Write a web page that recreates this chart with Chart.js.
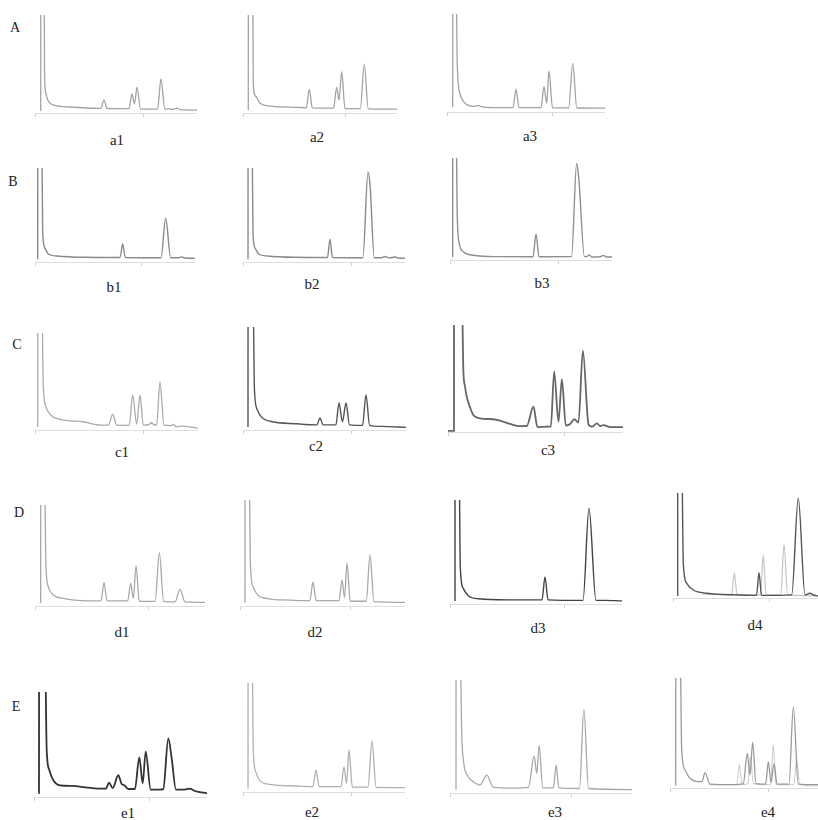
<!DOCTYPE html>
<html><head><meta charset="utf-8">
<script src="https://cdn.jsdelivr.net/npm/chart.js@4"></script>
<style>
html,body{margin:0;padding:0;background:#fff;width:818px;height:820px;overflow:hidden;position:relative;}
canvas{position:absolute;}
.lbl{position:absolute;transform:translate(-50%,-50%);font-family:"Liberation Serif","DejaVu Serif",serif;font-size:15px;color:#222;white-space:nowrap;}
.row{font-size:14px;}
</style></head><body>
<script>
// Retention time (0-30 min) vs. detector response (0-100 % of full scale, solvent peak off-scale)
const a1 = [[1.06,2],[1.07,140],[1.70,140],[1.76,45],[1.95,22],[2.3,14],[2.8,10],[3.7,7.7],[6.5,6.1],[12.2,4.8],[12.78,13.3],[13.35,4.6],[17.4,4.4],[17.96,19.4],[18.43,9.2],[18.89,26.5],[19.54,4],[22.7,4],[23.33,34.7],[24.05,3.8],[25.0,4.5],[25.37,3.5],[26.3,5.0],[26.85,3.5],[30,3]];
const a2 = [[1.03,3],[1.04,140],[1.89,140],[2.0,30],[2.53,16.7],[3.31,9.9],[5.26,7.1],[10.46,5.8],[12.33,5.3],[12.92,24.2],[13.5,5.2],[16.3,5],[17.63,5],[18.25,26.2],[18.70,13.3],[19.23,42.2],[19.87,4.5],[22.85,4.4],[23.63,49.7],[24.4,4.3],[30,4]];
const a3 = [[1.08,5],[1.09,140],[1.71,140],[1.96,46.2],[2.47,19.1],[3.42,8.9],[4.69,6.1],[5.3,5.8],[5.94,6.8],[6.5,5.5],[7.54,4.8],[12.53,4.5],[13.1,23.2],[13.67,4.5],[17.85,4.5],[18.42,25.8],[18.93,8.9],[19.37,41.8],[20.03,4.3],[23.1,4.2],[23.87,49.7],[24.65,4.1],[30,4]];
const b1 = [[0.51,3],[0.52,140],[1.26,140],[1.44,30.5],[1.88,14.6],[2.5,8.5],[4.06,6.4],[9.06,5],[15.94,4.8],[16.44,19.1],[16.93,4.8],[23.63,4.6],[24.5,46.5],[25.44,4.6],[26.8,4.5],[27.5,5.5],[28.1,4.2],[30,3.9]];
const b2 = [[0.93,3],[0.94,140],[1.67,140],[1.85,30],[2.3,14],[2.9,8.5],[4.5,6.4],[9.5,5],[15.65,4.8],[16.1,24],[16.57,4.8],[22.2,4.6],[23.15,95.7],[23.55,80],[24.3,4.6],[25.6,4.5],[26.3,5.8],[27.0,4.4],[28.15,5.3],[28.8,4.2],[30,4]];
const b3 = [[0.5,3],[0.51,140],[1.11,140],[1.35,42.4],[1.72,16.3],[2.46,8.2],[4.31,4.6],[8.65,3.3],[15.37,3.2],[15.93,25.5],[16.48,3.2],[22.5,3.3],[23.46,94.8],[23.85,80],[24.9,3.3],[25.3,3.3],[25.8,5],[26.24,3],[27.8,3.2],[28.4,4.5],[29,3],[30,3]];
const c1 = [[0.5,3],[0.51,140],[1.23,140],[1.53,44.5],[2.02,24],[2.76,16.1],[4.6,11],[8.89,8.5],[11.96,5.1],[13.5,5],[14.3,16.1],[15.03,5],[17.35,4.8],[17.98,36],[18.71,6.2],[19.32,36],[19.93,5],[21.0,5.5],[21.34,7.5],[21.9,5.5],[22.39,5],[23.0,49.7],[23.74,5],[25.0,4.5],[25.45,5.8],[26.0,3.5],[27.0,4],[30,2]];
const c2 = [[0.92,3],[0.93,140],[1.84,140],[2.1,40],[2.6,20],[3.5,12],[5,8.5],[10,6],[13.6,5],[14.17,11.7],[14.74,5],[17.1,5],[17.67,26.2],[18.3,8],[18.96,26.2],[19.6,5],[22.0,4.5],[22.64,34],[23.3,4.5],[25.5,3.5],[30,2.5]];
const c3 = [[0,1],[1.02,1],[1.03,140],[2.35,140],[2.63,58],[2.92,42.3],[3.21,33],[3.78,23],[4.34,15.9],[5.49,12.8],[7.78,11.9],[8.93,10.6],[10.65,7.5],[12.36,5.5],[13.5,5.6],[14.65,23.7],[15.33,4.5],[16.95,5],[17.63,5],[18.2,56.4],[18.94,9.6],[19.52,49.3],[20.2,6],[20.95,7.5],[21.63,11.9],[22.37,9],[23.12,76],[24.09,7],[24.67,5],[25.53,8],[26.1,5.6],[26.67,6.5],[27.81,4.5],[30,4.6]];
const d1 = [[1.0,3],[1.01,140],[1.64,140],[1.94,38.9],[2.35,19.1],[3.23,10.9],[5.0,7.6],[8.53,5.3],[11.65,5],[12.18,23.1],[12.71,5],[16.36,5],[16.89,22.5],[17.35,7.6],[17.83,39.6],[18.41,4.6],[21.2,4.5],[21.94,52.8],[22.7,4.5],[24.71,4],[25.59,16.5],[26.47,4],[30,3.5]];
const d2 = [[0.91,3],[0.92,140],[1.64,140],[1.9,38],[2.4,18],[3.3,10],[5,7],[9,5.5],[12.7,5],[13.27,22.6],[13.84,5],[18.0,5],[18.55,24.5],[19.0,8],[19.45,40.5],[20.05,4.5],[22.95,4.5],[23.64,48],[24.35,4.2],[30,3.5]];
const d3 = [[0.87,3],[0.88,140],[1.57,140],[1.8,35],[2.3,15],[3.2,8],[5,5],[10,4],[16.05,4],[16.57,26],[17.1,4],[23.2,3.5],[24.24,92],[25.46,3.5],[27,3.5],[30,3]];
const d4 = [[0.97,2],[0.98,140],[1.8,140],[2.13,33],[2.83,14],[4.2,7.6],[6.97,4.5],[13.86,2.9],[17.28,2.5],[17.79,24.1],[18.31,2.5],[24.56,3],[25.92,95],[27.31,3],[28.35,4.5],[29.03,3],[30,2]];
const d4b = [[6,4],[12.1,3],[12.68,23.6],[13.26,3],[18.1,3],[18.68,41],[19.26,3],[22.3,3],[22.97,50.5],[23.7,3],[30,2]];
const e1 = [[0.87,3],[0.88,140],[1.91,140],[2.2,44.8],[2.65,25.7],[3.35,15.9],[4.51,11.1],[6.81,10.5],[8.5,9.5],[11.44,8],[12.48,8],[13.0,13.6],[13.64,8.5],[14.62,20.7],[15.2,12.4],[15.6,11.4],[16.35,7.6],[17.5,7.6],[18.26,37.8],[18.85,13],[19.37,43.1],[20.23,7],[21.85,7],[22.42,7.5],[23.29,55.7],[23.88,36.6],[24.62,7],[25.89,7],[27.05,8],[27.92,5.7],[30,3.5]];
const e2 = [[0.93,3],[0.94,140],[1.67,140],[1.9,40],[2.4,18],[3.2,10],[5,7],[10,5.5],[12.95,5],[13.52,20.2],[14.1,5],[18.15,5],[18.7,23],[19.17,8],[19.63,38.5],[20.25,4.5],[23.15,4.5],[23.89,46.8],[24.65,4.2],[30,4]];
const e3 = [[0.99,3],[1.0,140],[1.65,140],[1.93,52.8],[2.2,29.2],[3.02,14.4],[3.85,10],[4.95,7.1],[6.06,15.9],[7.15,5],[10.45,4.4],[12.93,5],[13.87,32.7],[14.31,17.4],[14.69,41.9],[15.3,4.5],[17.05,4.5],[17.5,24.8],[17.94,4.5],[21.34,4],[22.07,74],[22.83,4],[30,3]];
const e4 = [[1.16,2],[1.17,140],[2.03,140],[2.37,34.5],[3.04,16.4],[4.05,8.8],[5.74,5.8],[6.5,6],[7.09,13.9],[8.1,3.5],[12.83,3],[14.86,4],[15.67,31.5],[16.2,12],[16.76,41.2],[17.43,4],[19.39,3.5],[19.93,24],[20.47,5],[21.08,22],[21.7,3.5],[24.12,3.5],[25.0,73.4],[26.0,3.5],[30,3]];
const e4b = [[8,3],[13.5,3],[14.05,21],[14.6,3],[15.8,4],[16.3,28],[16.9,4],[20.4,3],[20.94,39],[21.5,3],[25.1,3],[25.68,26],[26.3,3],[30,2]];

const rowLetters = ['A','B','C','D','E'];
const rowPos = [[15,28],[13,182],[17,345],[19,513],[16,707]];

const panels = [
 {id:'a1',sets:[a1],x:35,top:15,w:162,h:98,col:['#a3a3a3'],lw:[1.3],lx:117,ly:140},
 {id:'a2',sets:[a2],x:243,top:15,w:154,h:98,col:['#a3a3a3'],lw:[1.3],lx:317,ly:137},
 {id:'a3',sets:[a3],x:447,top:14,w:158,h:98,col:['#a3a3a3'],lw:[1.3],lx:530,ly:136},
 {id:'b1',sets:[b1],x:35,top:168,w:160,h:94,col:['#8a8a8a'],lw:[1.4],lx:114,ly:287},
 {id:'b2',sets:[b2],x:243,top:168,w:162,h:94,col:['#8a8a8a'],lw:[1.4],lx:312,ly:284},
 {id:'b3',sets:[b3],x:450,top:158,w:162,h:102,col:['#909090'],lw:[1.4],lx:542,ly:283},
 {id:'c1',sets:[c1],x:35,top:333,w:163,h:97,col:['#aaaaaa'],lw:[1.3],lx:122,ly:452},
 {id:'c2',sets:[c2],x:243,top:327,w:163,h:103,col:['#555555'],lw:[1.4],lx:316,ly:446},
 {id:'c3',sets:[c3],x:448,top:325,w:175,h:107,col:['#666666'],lw:[1.8],lx:548,ly:450},
 {id:'d1',sets:[d1],x:35,top:505,w:170,h:101,col:['#a8a8a8'],lw:[1.3],lx:122,ly:632},
 {id:'d2',sets:[d2],x:240,top:500,w:165,h:106,col:['#a8a8a8'],lw:[1.3],lx:315,ly:632},
 {id:'d3',sets:[d3],x:450,top:500,w:172,h:104,col:['#444444'],lw:[1.4],lx:538,ly:628},
 {id:'d4',sets:[d4,d4b],x:673,top:493,w:145,h:105,col:['#555555','#c4c4c4'],lw:[1.4,1.2],lx:755,ly:625},
 {id:'e1',sets:[e1],x:34,top:692,w:173,h:105,col:['#333333'],lw:[1.8],lx:128,ly:813},
 {id:'e2',sets:[e2],x:243,top:683,w:162,h:109,col:['#b0b0b0'],lw:[1.3],lx:312,ly:812},
 {id:'e3',sets:[e3],x:450,top:680,w:182,h:113,col:['#a8a8a8'],lw:[1.3],lx:555,ly:812},
 {id:'e4',sets:[e4,e4b],x:670,top:678,w:148,h:110,col:['#9a9a9a','#cdcdcd'],lw:[1.3,1.1],lx:768,ly:812}
];

const PAD = 3, TICK = 4;
function addLabel(text, x, y, cls){
  const d = document.createElement('div');
  d.className = 'lbl' + (cls ? ' ' + cls : '');
  d.textContent = text;
  d.style.left = x + 'px'; d.style.top = y + 'px';
  document.body.appendChild(d);
}
rowLetters.forEach((t,i)=>addLabel(t,rowPos[i][0],rowPos[i][1],'row'));

panels.forEach(p=>{
  const c = document.createElement('canvas');
  c.width = p.w; c.height = p.h + PAD + TICK;
  c.style.left = p.x + 'px'; c.style.top = (p.top - PAD) + 'px';
  document.body.appendChild(c);
  new Chart(c, {
    type:'line',
    data:{datasets:p.sets.map((d,i)=>({label:p.id+(i?'b':''),data:d,borderColor:p.col[i],borderWidth:p.lw[i],pointRadius:0,cubicInterpolationMode:'monotone',fill:false}))},
    options:{
      responsive:false, animation:false, devicePixelRatio:1,
      layout:{padding:{top:PAD,left:0,right:0,bottom:0}},
      plugins:{legend:{display:false},tooltip:{enabled:false}},
      scales:{
        x:{type:'linear',min:0,max:30,
           ticks:{display:false,stepSize:20,includeBounds:false},
           grid:{drawOnChartArea:false,drawTicks:true,tickLength:TICK,color:'#d0d0d0'},
           border:{display:true,color:'#dedede',width:1}},
        y:{display:false,min:0,max:100}
      }
    }
  });
  addLabel(p.id, p.lx, p.ly);
});
</script>
</body></html>
